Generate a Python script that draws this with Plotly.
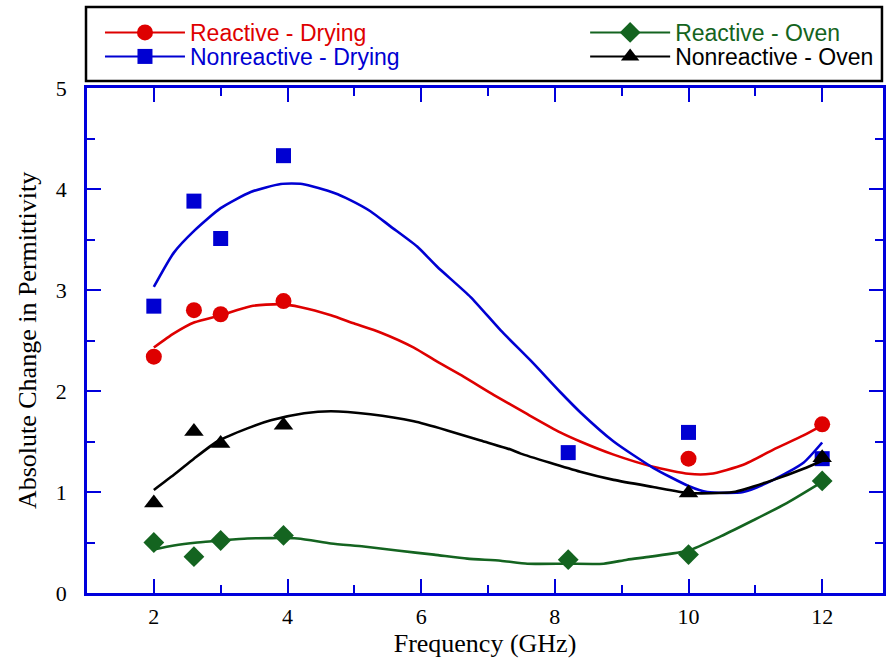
import plotly.graph_objects as go

# ---- measured points ----
freq_pts = [2, 2.6, 3, 3.94, 8.2, 10, 12]
reactive_drying = [2.34, 2.80, 2.76, 2.89, None, 1.33, 1.67]
nonreactive_drying = [2.84, 3.88, 3.51, 4.33, 1.39, 1.59, 1.33]
reactive_oven = [0.50, 0.36, 0.52, 0.57, 0.33, 0.38, 1.11]
nonreactive_oven = [0.89, 1.60, 1.48, 1.66, None, 0.99, 1.34]

# ---- fitted curves ----
rd_fx = [2.0, 2.3, 2.61, 3.0, 3.45, 3.9, 4.2, 4.65, 4.99, 5.39, 5.89, 6.24, 6.64, 7.09,
         7.59, 8.08, 8.38, 8.88, 9.47, 10.0, 10.33, 10.82, 11.27, 11.72, 12.0]
rd_fy = [2.43, 2.57, 2.68, 2.75, 2.84, 2.86, 2.83, 2.75, 2.67, 2.58, 2.43, 2.29, 2.14, 1.96,
         1.77, 1.59, 1.50, 1.37, 1.25, 1.18, 1.18, 1.27, 1.42, 1.56, 1.66]

nd_fx = [2.0, 2.3, 2.61, 3.0, 3.45, 3.9, 4.22, 4.7, 4.94, 5.24, 5.54, 5.94, 6.24, 6.74,
         7.19, 7.64, 8.08, 8.38, 8.88, 9.47, 10.0, 10.28, 10.82, 11.27, 11.72, 12.0]
nd_fy = [3.03, 3.37, 3.59, 3.81, 3.97, 4.05, 4.05, 3.96, 3.89, 3.78, 3.63, 3.43, 3.23, 2.93,
         2.60, 2.30, 1.99, 1.79, 1.50, 1.24, 1.06, 1.00, 1.00, 1.12, 1.29, 1.49]

ro_fx = [2.0, 2.3, 2.65, 3.0, 3.4, 4.15, 4.65, 5.14, 5.64, 6.19, 6.69, 7.19, 7.59, 8.18,
         8.73, 9.08, 9.43, 10.0, 10.48, 10.97, 11.47, 12.0]
ro_fy = [0.43, 0.47, 0.50, 0.52, 0.54, 0.54, 0.49, 0.46, 0.42, 0.38, 0.34, 0.32, 0.29, 0.29,
         0.29, 0.33, 0.36, 0.42, 0.56, 0.72, 0.89, 1.10]

no_fx = [2.0, 2.3, 2.6, 2.95, 3.4, 3.75, 4.25, 4.65, 5.24, 5.89, 6.39, 6.89, 7.34, 7.49,
         8.38, 8.88, 9.47, 10.0, 10.67, 11.27, 11.72, 12.0]
no_fy = [1.02, 1.17, 1.33, 1.50, 1.63, 1.71, 1.78, 1.80, 1.77, 1.70, 1.61, 1.51, 1.42, 1.38,
         1.20, 1.12, 1.05, 0.99, 1.00, 1.12, 1.23, 1.31]

x_ticks = [2, 4, 6, 8, 10, 12]
y_ticks = [0, 1, 2, 3, 4, 5]

RED = "rgb(222,0,0)"
BLUE = "rgb(0,0,210)"
GREEN = "rgb(20,100,32)"
BLACK = "rgb(0,0,0)"
AXIS = "rgb(0,0,220)"

# name, points, curve x, curve y, colour, symbol, legend id
series = [
    ("Reactive - Drying", reactive_drying, rd_fx, rd_fy, RED, "circle", "legend"),
    ("Nonreactive - Drying", nonreactive_drying, nd_fx, nd_fy, BLUE, "square", "legend2"),
    ("Reactive - Oven", reactive_oven, ro_fx, ro_fy, GREEN, "diamond", "legend3"),
    ("Nonreactive - Oven", nonreactive_oven, no_fx, no_fy, BLACK, "triangle-up", "legend4"),
]
sizes = {"circle": 16, "square": 15, "diamond": 16, "triangle-up": 17}

fig = go.Figure()
for name, pts, fx, fy, col, sym, leg in series:
    fig.add_trace(go.Scatter(x=fx, y=fy, mode="lines",
                             line=dict(color=col, width=2.6, shape="spline", smoothing=0.6),
                             showlegend=False, hoverinfo="skip"))
    fig.add_trace(go.Scatter(x=freq_pts, y=pts, mode="markers",
                             marker=dict(symbol=sym, size=sizes[sym], color=col,
                                         line=dict(width=0)),
                             showlegend=False))
    fig.add_trace(go.Scatter(x=[None], y=[None], mode="lines+markers",
                             name=f"<span style='color:{col}'>{name}</span>",
                             line=dict(color=col, width=2),
                             marker=dict(symbol=sym, size=sizes[sym], color=col),
                             legend=leg))

axis_common = dict(
    showgrid=False, zeroline=False, showline=True, linecolor=AXIS, linewidth=2.5,
    mirror="allticks", ticks="inside", tickcolor=AXIS, tickwidth=2, ticklen=14,
    tickfont=dict(family="Liberation Serif", size=22, color="black"),
)

fig.update_xaxes(range=[1, 12.91], tickvals=x_ticks, ticktext=[str(v) for v in x_ticks],
                 minor=dict(dtick=1, tick0=0, ticks="inside", ticklen=8, tickcolor=AXIS, tickwidth=2),
                 title=dict(text="Frequency (GHz)", font=dict(family="Liberation Serif", size=26, color="black"),
                            standoff=4),
                 ticklabelstandoff=2,
                 **axis_common)
fig.update_yaxes(range=[0, 5], tickvals=y_ticks, ticktext=[str(v) for v in y_ticks],
                 minor=dict(dtick=0.5, tick0=0, ticks="inside", ticklen=8, tickcolor=AXIS, tickwidth=2),
                 title=dict(text="Absolute Change in Permittivity",
                            font=dict(family="Liberation Serif", size=26, color="black"), standoff=12),
                 ticklabelstandoff=13,
                 **axis_common)

leg_common = dict(font=dict(family="Liberation Sans", size=23, color="black"),
                  itemwidth=80, bgcolor="rgba(0,0,0,0)", borderwidth=0,
                  xanchor="left", yanchor="top", orientation="v",
                  itemclick=False)
row1, row2 = 1.1525, 1.105
col1, col2 = 0.0163, 0.6258
fig.update_layout(
    width=886, height=665,
    margin=dict(l=87, r=0, t=88, b=72),
    plot_bgcolor="white", paper_bgcolor="white",
    legend=dict(x=col1, y=row1, **leg_common),
    legend2=dict(x=col1, y=row2, **leg_common),
    legend3=dict(x=col2, y=row1, **leg_common),
    legend4=dict(x=col2, y=row2, **leg_common),
    shapes=[dict(type="rect", xref="paper", yref="paper",
                 x0=-0.00125, x1=0.9987, y0=1.0139, y1=1.1604,
                 line=dict(color="black", width=2.5), fillcolor="rgba(0,0,0,0)")],
)

fig.write_html("out.html")
